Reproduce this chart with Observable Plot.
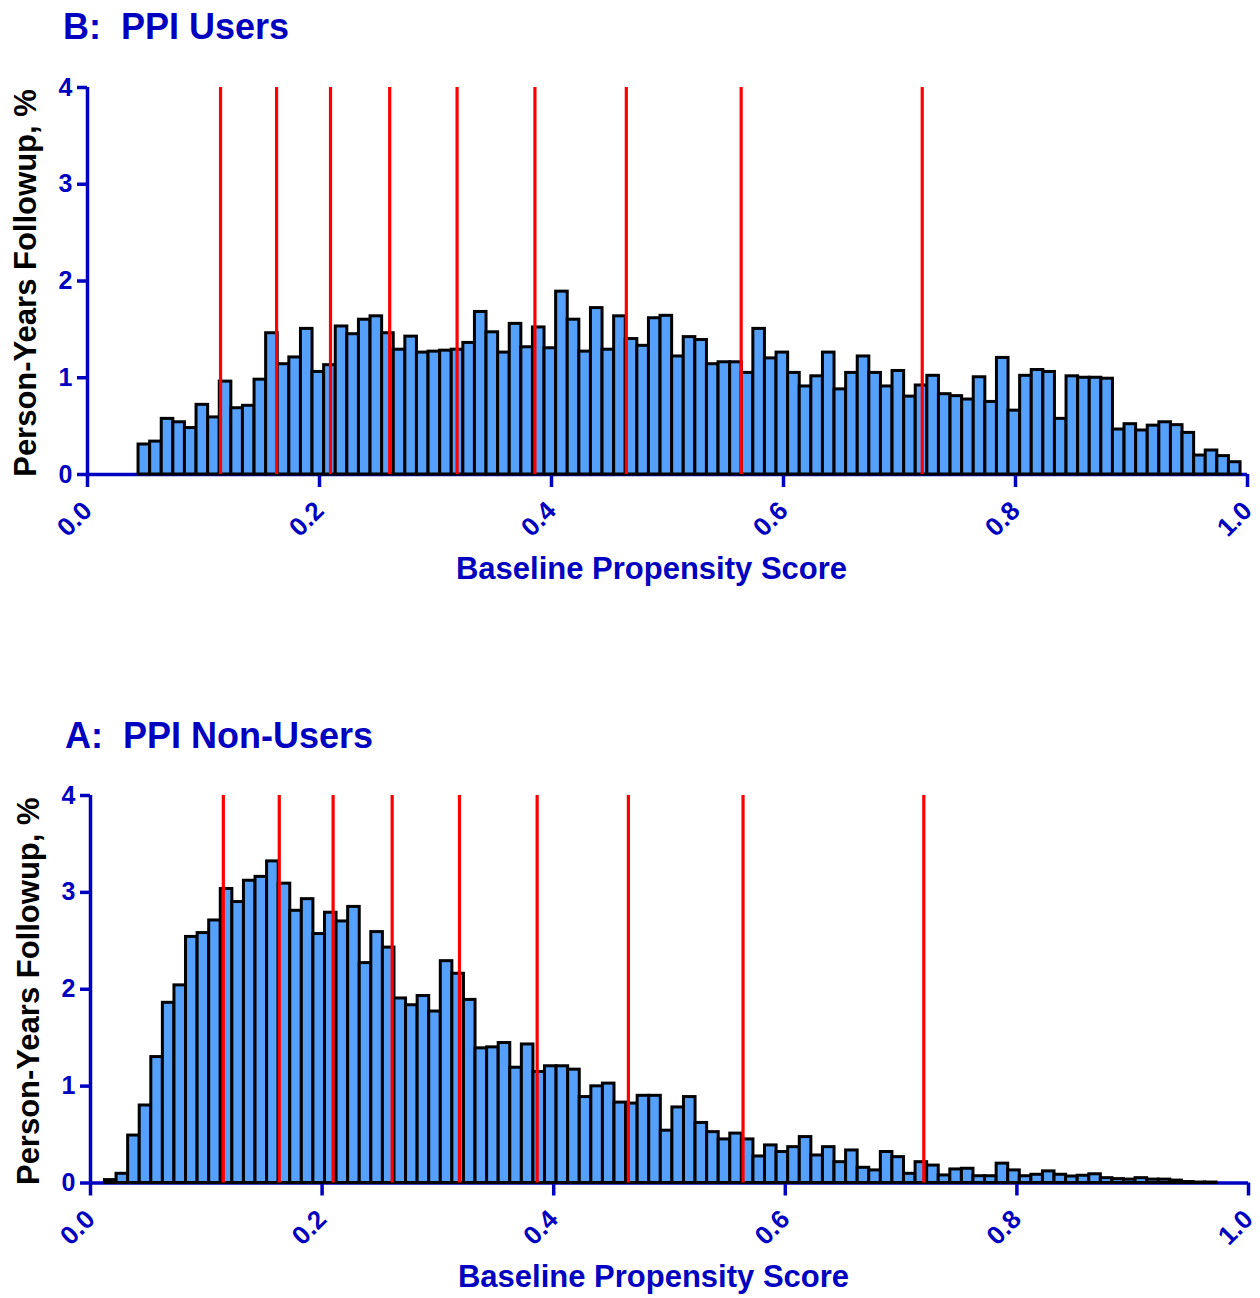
<!DOCTYPE html>
<html><head><meta charset="utf-8">
<script src="https://cdn.jsdelivr.net/npm/d3@7"></script>
<script src="https://cdn.jsdelivr.net/npm/@observablehq/plot@0.6"></script>
<style>
body{margin:0;background:#fff;font-family:"Liberation Sans",Arial,sans-serif;}
#wrap{position:relative;width:1260px;height:1298px;overflow:hidden;}
.title{position:absolute;font-weight:bold;font-size:36px;line-height:36px;color:#0000C0;white-space:pre;}
.panel{position:absolute;left:0;}
</style></head>
<body><div id="wrap">
<div class="title" style="left:63px;top:9px;">B:  PPI Users</div>
<div class="panel" id="pB" style="top:50px;"></div>
<div class="title" style="left:65px;top:718px;">A:  PPI Non-Users</div>
<div class="panel" id="pA" style="top:755px;"></div>
</div>
<script>
// ---- data ----
const binWidth = 0.01;
// PPI users: lower edge of the first bin and % person-years per bin
const usersFirstEdge = 0.034;
const usersPct = [0,
 0.31,0.34,0.575,0.54,0.48,0.72,0.59,0.96,0.685,0.71,
 0.98,1.46,1.14,1.21,1.505,1.06,1.13,1.53,1.45,1.60,
 1.635,1.46,1.29,1.425,1.26,1.27,1.28,1.29,1.36,1.68,
 1.47,1.26,1.557,1.315,1.52,1.305,1.89,1.60,1.27,1.72,
 1.29,1.635,1.40,1.33,1.615,1.64,1.22,1.42,1.39,1.14,
 1.16,1.16,1.05,1.505,1.20,1.26,1.05,0.91,1.015,1.26,
 0.88,1.05,1.22,1.05,0.91,1.07,0.805,0.92,1.02,0.83,
 0.81,0.775,1.005,0.75,1.205,0.66,1.02,1.08,1.06,0.575,
 1.015,1.00,1.00,0.99,0.465,0.52,0.455,0.505,0.54,0.51,
 0.43,0.196,0.248,0.19,0.127];
// PPI non-users
const nonUsersFirstEdge = 0.0125;
const nonUsersPct = [0.03,
 0.095,0.49,0.80,1.30,1.86,2.04,2.54,2.58,2.71,3.035,
 2.90,3.12,3.16,3.32,3.09,2.81,2.93,2.57,2.79,2.70,
 2.85,2.27,2.59,2.43,1.905,1.835,1.93,1.77,2.29,2.16,
 1.89,1.39,1.40,1.445,1.19,1.43,1.146,1.205,1.205,1.17,
 0.887,0.998,1.026,0.83,0.82,0.90,0.90,0.54,0.78,0.887,
 0.62,0.525,0.45,0.51,0.45,0.274,0.388,0.32,0.37,0.474,
 0.284,0.37,0.215,0.336,0.157,0.13,0.32,0.267,0.095,0.215,
 0.18,0.078,0.14,0.147,0.07,0.07,0.20,0.13,0.07,0.085,
 0.12,0.085,0.067,0.075,0.09,0.05,0.04,0.035,0.05,0.035,
 0.035,0.025,0.01,0.005,0.005,0,0];
// decile cut-points of the propensity score (red lines)
const cutpoints = [0.1147,0.163,0.2095,0.2605,0.3186,0.3857,0.4645,0.5635,0.7196];
const xTicks = [0,0.2,0.4,0.6,0.8,1.0];
const yTicks = [0,1,2,3,4];
const xLabel = "Baseline Propensity Score";
const yLabel = "Person-Years Followup, %";

const BLUE = "#0000C0";
const FILL = "#55A0FA";

function panel(values, firstEdge, o) {
  const bins = values.map((v, i) => ({x1: firstEdge + i * binWidth, x2: firstEdge + (i + 1) * binWidth, y: v}));
  return Plot.plot({
    width: 1260, height: o.height,
    marginLeft: o.ml, marginRight: o.mr, marginTop: o.mt, marginBottom: o.mb,
    x: {domain: [0, 1]},
    y: {domain: [0, 4]},
    style: {fontFamily: "'Liberation Sans', Arial, sans-serif", background: "white", overflow: "visible"},
    marks: [
      Plot.ruleX([0], {y1: 0, y2: 4, stroke: BLUE, strokeWidth: 3.5}),
      Plot.ruleY([0], {x1: 0, x2: 1, stroke: BLUE, strokeWidth: 3.5}),
      Plot.axisY(yTicks, {tickSize: 10, tickPadding: 5, stroke: BLUE, strokeWidth: 3.5, fill: BLUE,
        fontSize: 25, fontWeight: "bold", tickFormat: d => String(d), label: null}),
      Plot.axisX(xTicks, {tickSize: 13, tickPadding: 19, tickRotate: -45, dx: 0, stroke: BLUE, strokeWidth: 3.5, fill: BLUE,
        fontSize: 26, fontWeight: "bold", tickFormat: d3.format(".1f"), label: null}),
      Plot.rectY(bins, {x1: "x1", x2: "x2", y: "y", fill: FILL, stroke: "black", strokeWidth: 3}),
      Plot.ruleX(cutpoints, {y1: 0, y2: 4, stroke: "#FF0000", strokeWidth: 3.2}),
      Plot.text([xLabel], {text: d => d, frameAnchor: "bottom", lineAnchor: "bottom", dy: 104, dx: -16,
        fill: BLUE, fontSize: 31, fontWeight: "bold"}),
      Plot.text([yLabel], {text: d => d, frameAnchor: "left", textAnchor: "middle", lineAnchor: "bottom",
        rotate: -90, dx: o.ydx, dy: 2, fill: "black", fontSize: 31, fontWeight: "bold"})
    ]
  });
}

document.getElementById("pB").appendChild(panel(usersPct, usersFirstEdge,
  {height: 560, ml: 87, mr: 13, mt: 37, mb: 136, ydx: -52}));
document.getElementById("pA").appendChild(panel(nonUsersPct, nonUsersFirstEdge,
  {height: 543, ml: 90, mr: 12, mt: 40, mb: 115.5, ydx: -52}));
</script>
</body></html>
